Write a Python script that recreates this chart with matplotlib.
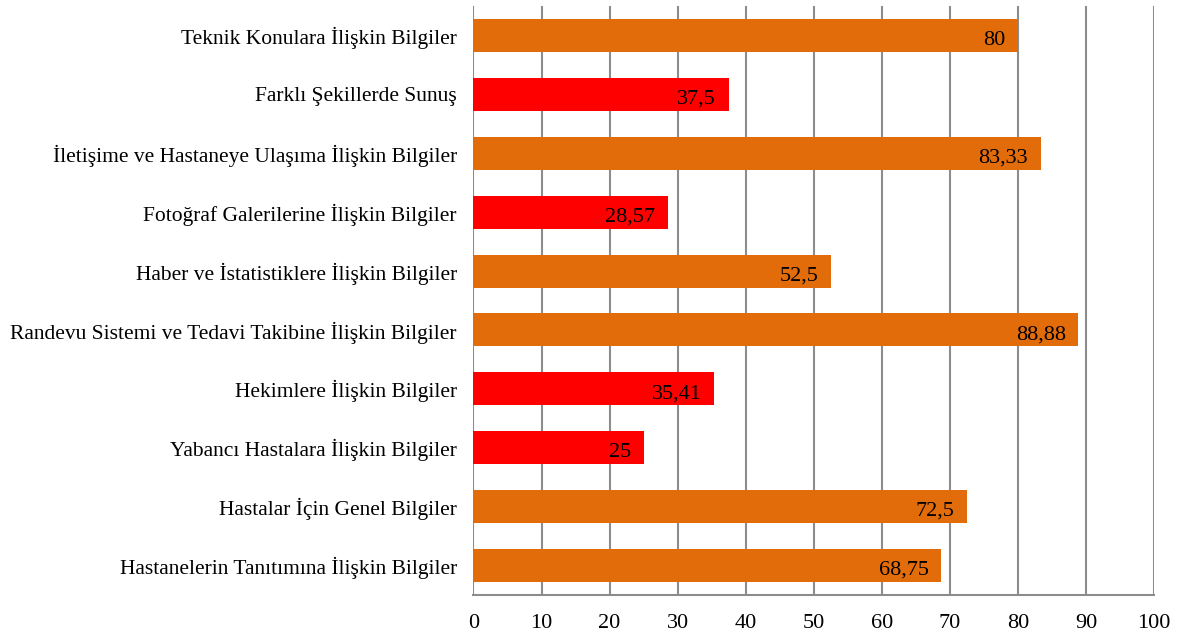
import matplotlib.pyplot as plt

plt.rcParams['font.family'] = ['Liberation Serif', 'DejaVu Serif']

# kategoriler (alttan üste)
kategoriler = [
    "Hastanelerin Tanıtımına İlişkin Bilgiler",
    "Hastalar İçin Genel Bilgiler",
    "Yabancı Hastalara İlişkin Bilgiler",
    "Hekimlere İlişkin Bilgiler",
    "Randevu Sistemi ve Tedavi Takibine İlişkin Bilgiler",
    "Haber ve İstatistiklere İlişkin Bilgiler",
    "Fotoğraf Galerilerine İlişkin Bilgiler",
    "İletişime ve Hastaneye Ulaşıma İlişkin Bilgiler",
    "Farklı Şekillerde Sunuş",
    "Teknik Konulara İlişkin Bilgiler",
]
degerler = [68.75, 72.5, 25, 35.41, 88.88, 52.5, 28.57, 83.33, 37.5, 80]
etiketler = ["68,75", "72,5", "25", "35,41", "88,88", "52,5", "28,57", "83,33", "37,5", "80"]
dusuk = [False, False, True, True, False, False, True, False, True, False]

turuncu = '#E36C0A'
kirmizi = '#FF0000'
renkler = [kirmizi if d else turuncu for d in dusuk]

fig = plt.figure(figsize=(11.79, 6.35), dpi=100)
ax = fig.add_axes([0.4016, 0.063, 0.5772, 0.9276])

y = list(range(len(kategoriler)))
ax.barh(y, degerler, height=0.56, color=renkler, zorder=3)

for yi, v, lab in zip(y, degerler, etiketler):
    ax.annotate(lab, xy=(v, yi), xytext=(-9, -3.5), textcoords='offset points',
                ha='right', va='center', fontsize=16, color='black', zorder=4)

ax.set_xlim(0, 100)
ax.set_ylim(-0.5, len(kategoriler) - 0.5)
ax.set_xticks(range(0, 101, 10))
ax.set_yticks(y)
ax.set_yticklabels(kategoriler, fontsize=15.5)
ax.tick_params(axis='x', labelsize=16, length=0, pad=13.5)
ax.tick_params(axis='y', length=0, pad=12)

ax.grid(axis='x', color='#8c8c8c', linewidth=1.5, zorder=0)
for s in ['top', 'right', 'left']:
    ax.spines[s].set_visible(False)
ax.spines['bottom'].set_color('#8c8c8c')
ax.spines['bottom'].set_linewidth(1.5)

fig.savefig('out.png', dpi=100)
